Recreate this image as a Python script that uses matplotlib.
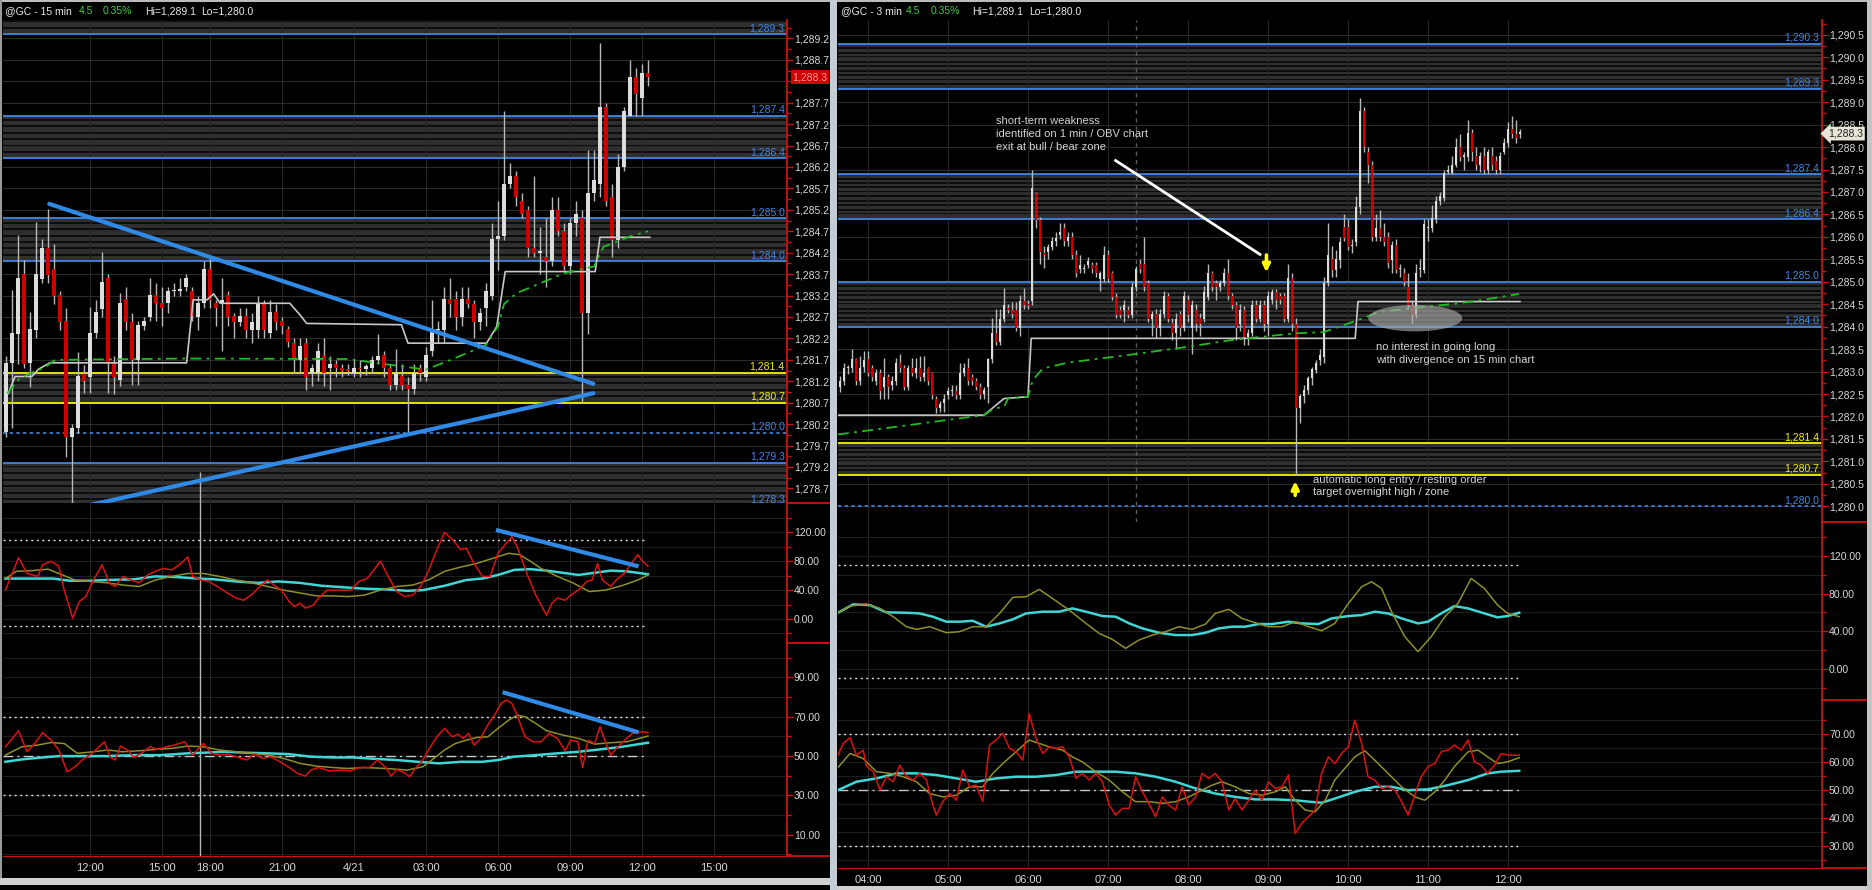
import numpy as np
import matplotlib
matplotlib.use("Agg")
import matplotlib.pyplot as plt
from matplotlib.patches import Ellipse, Rectangle
from matplotlib.lines import Line2D
from matplotlib.ticker import FixedLocator, FuncFormatter

plt.rcParams['font.family'] = ['Liberation Sans', 'DejaVu Sans']

W, H = 1872, 890
TXT = '#d8d8d8'
UP, DN, WICK = '#dcdcdc', '#d00000', '#b8b8b8'
BLUE, YELLOW = '#3f86e6', '#f2f200'
RED_AX = '#d01010'

# ---------------- 15 min chart (left) ----------------
L_OPEN = [1280.02, 1281.62, 1282.30, 1283.70, 1281.62, 1282.40, 1283.59, 1284.32, 1283.81, 1283.21,
          1282.61, 1279.91, 1280.12, 1281.37, 1281.31, 1282.32, 1282.88, 1283.62, 1281.63, 1281.23,
          1283.12, 1282.59, 1281.70, 1282.50, 1282.71, 1283.21, 1283.02, 1283.02, 1283.30, 1283.30,
          1283.40, 1283.30, 1282.71, 1283.02, 1283.82, 1283.02, 1283.00, 1283.21, 1282.72, 1282.59,
          1282.72, 1282.40, 1282.40, 1283.02, 1282.32, 1282.82, 1282.60, 1282.42, 1282.10, 1281.70,
          1282.10, 1281.40, 1281.40, 1281.80, 1281.50, 1281.60, 1281.50, 1281.47, 1281.39, 1281.50,
          1281.48, 1281.50, 1281.70, 1281.81, 1281.50, 1281.12, 1281.33, 1281.12, 1281.02, 1281.50,
          1281.30, 1281.90, 1282.40, 1282.40, 1283.11, 1283.11, 1282.71, 1283.11, 1283.00, 1282.59,
          1282.90, 1283.20, 1284.52, 1284.60, 1285.80, 1286.00, 1285.40, 1285.20, 1284.30, 1284.20,
          1284.10, 1284.00, 1285.20, 1284.70, 1283.90, 1284.90, 1285.00, 1282.80, 1285.60, 1285.80,
          1287.60, 1285.50, 1284.50, 1286.20, 1287.40, 1288.30, 1287.80, 1288.40]
L_HIGH = [1281.80, 1283.33, 1284.61, 1284.03, 1282.82, 1284.91, 1284.51, 1285.22, 1284.40, 1283.30,
          1282.90, 1280.20, 1281.89, 1281.58, 1282.94, 1283.10, 1284.22, 1283.70, 1281.80, 1283.25,
          1283.40, 1282.80, 1282.60, 1282.70, 1283.60, 1283.50, 1283.40, 1283.40, 1283.50, 1283.60,
          1283.70, 1283.40, 1283.20, 1284.00, 1284.10, 1283.10, 1283.60, 1283.30, 1282.80, 1282.90,
          1282.90, 1282.80, 1283.20, 1283.10, 1283.10, 1283.00, 1282.70, 1282.50, 1282.20, 1282.20,
          1282.20, 1281.60, 1282.10, 1282.20, 1281.80, 1281.70, 1281.60, 1281.60, 1281.70, 1281.70,
          1281.60, 1281.80, 1282.30, 1281.90, 1281.60, 1281.95, 1281.60, 1281.30, 1281.60, 1281.60,
          1282.00, 1283.10, 1282.60, 1283.40, 1283.60, 1283.30, 1283.40, 1283.40, 1283.10, 1282.90,
          1283.50, 1284.90, 1285.40, 1287.50, 1286.30, 1286.10, 1285.60, 1285.30, 1286.00, 1284.80,
          1285.00, 1285.50, 1285.50, 1284.90, 1285.00, 1285.40, 1285.20, 1286.60, 1286.60, 1289.10,
          1287.70, 1285.80, 1286.50, 1287.60, 1288.70, 1288.50, 1288.60, 1288.70]
L_LOW = [1279.90, 1280.10, 1281.60, 1281.50, 1281.07, 1282.20, 1283.50, 1283.50, 1283.00, 1282.40,
         1279.44, 1278.20, 1280.00, 1280.92, 1280.92, 1282.20, 1282.70, 1280.92, 1280.90, 1281.10,
         1282.40, 1281.11, 1281.11, 1282.40, 1282.60, 1282.60, 1282.50, 1282.80, 1283.20, 1283.20,
         1283.30, 1282.60, 1282.40, 1282.90, 1282.90, 1282.50, 1281.90, 1282.50, 1282.20, 1282.50,
         1282.20, 1282.10, 1282.20, 1282.20, 1282.20, 1282.40, 1282.30, 1282.00, 1281.40, 1281.40,
         1281.00, 1281.10, 1281.20, 1281.10, 1281.00, 1281.30, 1281.30, 1281.35, 1281.30, 1281.30,
         1281.35, 1281.40, 1281.60, 1281.30, 1281.00, 1281.00, 1281.00, 1279.95, 1280.90, 1281.20,
         1281.20, 1281.80, 1282.10, 1282.10, 1282.70, 1282.40, 1282.50, 1282.90, 1282.20, 1282.40,
         1282.50, 1283.10, 1283.80, 1284.50, 1285.70, 1285.30, 1285.00, 1284.10, 1284.10, 1283.70,
         1283.40, 1283.90, 1284.60, 1283.80, 1283.70, 1284.60, 1280.70, 1282.30, 1285.40, 1285.50,
         1285.30, 1284.10, 1284.30, 1286.10, 1287.40, 1287.40, 1287.40, 1288.10]
L_CLOSE = [1281.62, 1282.32, 1283.60, 1281.60, 1282.42, 1283.70, 1284.30, 1283.68, 1283.19, 1282.59,
           1279.91, 1280.12, 1281.32, 1281.21, 1282.32, 1282.82, 1283.51, 1281.63, 1281.31, 1283.02,
           1282.59, 1281.70, 1282.51, 1282.60, 1283.21, 1283.02, 1282.90, 1283.30, 1283.30, 1283.35,
           1283.60, 1282.72, 1283.02, 1283.81, 1283.10, 1282.90, 1283.10, 1282.71, 1282.59, 1282.72,
           1282.40, 1282.59, 1283.02, 1282.40, 1282.82, 1282.59, 1282.50, 1282.11, 1281.74, 1282.03,
           1281.30, 1281.50, 1281.90, 1281.40, 1281.60, 1281.50, 1281.43, 1281.45, 1281.50, 1281.48,
           1281.55, 1281.70, 1281.80, 1281.50, 1281.12, 1281.39, 1281.12, 1281.02, 1281.39, 1281.39,
           1281.81, 1282.40, 1282.42, 1283.11, 1283.00, 1282.71, 1283.11, 1283.00, 1282.59, 1282.80,
           1283.30, 1284.52, 1284.60, 1285.80, 1286.00, 1285.50, 1285.10, 1284.30, 1284.20, 1284.22,
           1284.00, 1285.20, 1284.70, 1283.90, 1284.90, 1285.10, 1282.80, 1285.60, 1285.90, 1287.60,
           1285.40, 1284.50, 1286.20, 1287.50, 1288.30, 1287.90, 1288.40, 1288.30]

L_TIME_TICKS = [14, 26, 34, 46, 58, 70, 82, 94, 106, 118]
L_TIME_LABELS = ['12:00', '15:00', '18:00', '21:00', '4/21', '03:00', '06:00', '09:00', '12:00', '15:00']

L_VWAP_X = [0.2, 2.3, 4.6, 6.2, 8.2, 30, 57, 62, 66, 70, 75, 80, 82, 83, 85, 93, 98, 99.6, 104, 107]
L_VWAP_Y = [1280.92, 1281.27, 1281.42, 1281.50, 1281.70, 1281.73, 1281.72, 1281.62, 1281.55, 1281.47,
            1281.75, 1282.05, 1282.48, 1283.00, 1283.25, 1283.72, 1283.88, 1284.34, 1284.58, 1284.70]
L_STEP_X = [0.4, 1.5, 4.3, 5.4, 7.3, 30.1, 31.2, 33.5, 34.6, 35.7, 47.3, 49.0, 50.1, 65.9, 67.0,
            80.1, 81.8, 83.2, 98.2, 99.0, 107.3]
L_STEP_Y = [1280.92, 1281.31, 1281.31, 1281.48, 1281.63, 1281.63, 1283.10, 1283.10, 1283.24, 1283.02,
            1283.02, 1282.75, 1282.55, 1282.52, 1282.09, 1282.09, 1282.48, 1283.76, 1283.76, 1284.56,
            1284.56]
L_TREND_UPPER_X, L_TREND_UPPER_Y = [7.2, 97.9], [1285.34, 1281.14]
L_TREND_LOWER_X, L_TREND_LOWER_Y = [12.0, 97.9], [1278.25, 1280.92]
L_CURSOR = 32.3

L_CCI_X = [-0.1, 2.1, 3.5, 4.4, 5.3, 6.1, 7.5, 8.8, 9.7, 11.1, 12.2, 13.3, 14.6, 16.0, 17.3, 18.2,
           19.5, 20.9, 22.2, 23.6, 24.9, 26.2, 27.6, 28.9, 30.3, 31.1, 32.5, 33.8, 35.2, 36.5, 38.3,
           39.6, 41.0, 42.3, 43.6, 45.0, 45.9, 47.2, 48.1, 49.0, 49.9, 51.2, 52.1, 53.5, 54.8, 56.1,
           57.5, 58.8, 60.2, 61.5, 62.4, 63.7, 65.1, 66.4, 67.8, 69.1, 70.4, 71.8, 73.1, 74.4, 75.8,
           76.7, 78.0, 79.4, 80.7, 82.0, 82.9, 84.3, 85.2, 86.9, 88.3, 90.1, 91.0, 91.9, 93.2, 94.1,
           95.4, 96.8, 97.7, 98.6, 99.4, 100.8, 101.7, 103.0, 103.9, 105.3, 106.1, 107.0]
L_CCI_RED = [40, 85, 63, 61, 59, 75, 80, 73, 40, 1, 24, 31, 54, 75, 49, 45, 59, 54, 50, 61,
             66, 70, 68, 75, 86, 59, 54, 52, 45, 38, 29, 26, 34, 45, 54, 45, 40, 24, 17, 22,
             15, 19, 29, 40, 40, 40, 40, 52, 56, 70, 80, 59, 38, 31, 33, 45, 66, 96, 120, 110,
             96, 98, 77, 59, 59, 91, 100, 114, 100, 61, 33, 5, 22, 29, 26, 33, 40, 52, 54, 77,
             54, 45, 54, 63, 73, 89, 80, 73]
L_CCI_OLIVE_X = [-0.1, 1.7, 4.4, 7.0, 8.8, 11.5, 14.2, 16.9, 19.5, 22.2, 24.9, 27.6, 30.3, 32.9,
                 35.6, 38.3, 41.0, 43.6, 46.3, 49.0, 51.7, 54.4, 57.0, 59.7, 62.4, 65.1, 67.8, 70.4,
                 73.1, 75.8, 78.5, 81.1, 83.8, 85.6, 87.4, 89.2, 91.9, 94.5, 97.2, 99.9, 102.6,
                 105.3, 107.0]
L_CCI_OLIVE = [56, 66, 67, 69, 63, 54, 52, 50, 47, 45, 54, 59, 63, 63, 59, 54, 50, 45, 40, 36,
               32, 32, 31, 33, 40, 45, 47, 54, 66, 72, 77, 84, 91, 89, 80, 70, 59, 50, 38, 40,
               46, 54, 61]
L_CCI_CYAN_X = [-0.1, 3.5, 7.9, 10.6, 14.2, 16.9, 21.3, 24.9, 28.5, 32.0, 34.7, 38.3, 41.9, 45.4,
                49.0, 52.6, 56.1, 59.7, 63.3, 66.9, 69.5, 73.1, 76.7, 79.4, 82.0, 84.7, 87.4, 90.1,
                92.8, 95.4, 98.1, 100.8, 103.5, 106.1, 107.0]
L_CCI_CYAN = [56, 56, 56, 53, 53, 54, 55, 59, 58, 56, 55, 52, 50, 52, 50, 46, 44, 42, 41, 39,
              40, 46, 54, 56, 61, 68, 69, 67, 64, 61, 64, 67, 66, 63, 62]
L_CCI_TREND_X, L_CCI_TREND_Y = [82.0, 105.1], [122.7, 73.6]

L_RSI_X = [-0.1, 2.1, 3.5, 4.8, 6.1, 7.5, 8.8, 10.2, 11.5, 12.8, 14.2, 15.5, 16.4, 17.3, 18.2, 19.1,
           20.4, 21.3, 22.7, 24.0, 25.3, 26.7, 28.0, 29.8, 31.1, 32.9, 34.3, 35.6, 36.9, 38.3, 40.1,
           41.4, 42.8, 44.1, 45.4, 47.2, 48.6, 49.9, 50.8, 52.1, 53.9, 55.7, 57.5, 58.8, 60.6, 61.9,
           63.3, 64.2, 65.1, 66.4, 67.3, 68.2, 69.5, 70.4, 71.8, 73.1, 74.4, 75.3, 76.2, 77.1, 78.0,
           78.9, 80.3, 81.6, 82.5, 83.4, 84.3, 85.2, 86.5, 87.8, 89.2, 90.5, 91.9, 93.2, 94.1, 95.3,
           96.1, 97.0, 98.1, 99.0, 99.9, 100.8, 101.7, 103.0, 104.4, 105.3, 106.1, 107.0]
L_RSI_RED = [54.7, 62.9, 52.2, 56.4, 61.9, 58.1, 53.1, 42.0, 44.6, 48.3,
             51.0, 54.7, 57.3, 49.7, 48.0, 55.1, 52.7, 49.3, 51.7, 54.7,
             53.4, 54.7, 55.6, 57.3, 50.5, 56.4, 51.4, 50.5, 51.0, 49.7,
             48.0, 51.0, 48.8, 49.7, 47.6, 44.2, 41.2, 39.8, 42.9, 44.2,
             42.4, 42.9, 42.5, 44.2, 44.2, 48.0, 44.2, 39.8, 43.2, 41.5,
             39.5, 43.7, 48.0, 53.1, 59.8, 64.1, 59.8, 61.2, 59.0, 61.5,
             55.6, 58.1, 65.8, 71.7, 76.8, 78.5, 76.8, 70.8, 59.8, 57.3,
             57.3, 61.5, 59.0, 52.7, 58.1, 57.3, 44.2, 58.1, 56.4, 64.9,
             57.3, 50.5, 53.9, 57.8, 61.5, 61.9, 62.4, 61.9]
L_RSI_OLIVE_X = [-0.1, 2.6, 5.3, 7.5, 9.7, 11.9, 14.6, 16.9, 19.5, 22.2, 24.9, 27.6, 30.3, 32.9,
                 35.6, 38.3, 41.0, 43.6, 46.3, 49.0, 51.7, 54.4, 57.0, 59.7, 63.3, 66.9, 69.5, 71.3,
                 73.1, 74.9, 76.7, 78.5, 80.3, 82.0, 83.8, 85.2, 86.5, 88.3, 90.1, 92.8, 95.4, 98.1,
                 100.8, 103.5, 107.0]
L_RSI_OLIVE = [50.5, 54.7, 55.6, 56.9, 56.4, 51.4, 52.2, 53.1, 52.2, 52.7,
               53.4, 53.9, 55.1, 54.7, 53.1, 52.2, 51.4, 50.5, 48.8, 46.3,
               44.9, 44.2, 43.7, 44.2, 43.7, 42.9, 44.6, 48.8, 53.1, 56.4,
               58.1, 59.5, 59.8, 64.1, 68.3, 70.8, 70.0, 66.6, 62.9, 60.7,
               59.0, 56.1, 56.8, 57.3, 60.2]
L_RSI_CYAN_X = [-0.1, 2.6, 6.1, 8.8, 12.4, 16.9, 21.3, 25.8, 30.3, 32.9, 36.5, 40.1, 43.6, 47.2,
                50.8, 54.4, 57.9, 61.5, 65.1, 68.6, 72.2, 75.8, 79.4, 82.0, 84.7, 88.3, 91.9, 95.4,
                99.0, 102.6, 107.0]
L_RSI_CYAN = [47.1, 48.3, 49.3, 50.0, 50.0, 50.0, 50.5, 50.5, 51.4, 51.7, 52.2, 51.7, 51.4, 51.0,
              49.7, 49.3, 49.3, 48.6, 48.0, 47.1, 46.3, 47.1, 47.1, 48.0, 49.7, 50.5, 51.4, 52.2,
              53.4, 54.7, 56.8]
L_RSI_TREND_X, L_RSI_TREND_Y = [83.1, 105.1], [82.2, 62.4]

# ---------------- 3 min chart (right) ----------------
R_OPEN = [1282.65, 1282.80, 1283.07, 1283.07, 1283.27, 1282.78, 1283.10, 1283.27, 1283.07, 1282.78,
          1282.97, 1282.66, 1282.87, 1282.70, 1282.80, 1283.18, 1283.07, 1282.66, 1283.07, 1282.97,
          1283.07, 1282.87, 1283.07, 1282.97, 1282.38, 1282.18, 1282.30, 1282.48, 1282.57, 1282.57,
          1282.48, 1282.97, 1283.07, 1282.87, 1282.78, 1282.66, 1282.50, 1282.66, 1283.27, 1283.87,
          1283.66, 1284.18, 1284.40, 1284.38, 1284.38, 1283.98, 1284.58, 1284.50, 1284.58, 1286.98,
          1286.38, 1285.62, 1285.67, 1285.78, 1285.90, 1286.05, 1286.20, 1285.90, 1286.00, 1285.60,
          1285.28, 1285.28, 1285.37, 1285.37, 1285.37, 1285.06, 1285.06, 1285.60, 1285.19, 1284.67,
          1284.37, 1284.37, 1284.37, 1284.26, 1284.88, 1285.39, 1285.39, 1284.98, 1284.18, 1284.28,
          1283.96, 1284.28, 1284.68, 1284.08, 1283.86, 1284.28, 1283.96, 1284.59, 1283.96, 1284.38,
          1284.20, 1284.18, 1284.67, 1285.19, 1284.98, 1284.88, 1284.98, 1285.19, 1284.68, 1284.48,
          1284.07, 1284.38, 1283.78, 1283.87, 1284.48, 1284.18, 1284.48, 1284.07, 1284.60, 1284.78,
          1284.68, 1284.68, 1284.18, 1285.08, 1284.07, 1282.18, 1282.45, 1282.60, 1282.85, 1283.03,
          1283.25, 1283.33, 1284.98, 1285.50, 1285.26, 1285.48, 1286.23, 1286.23, 1285.80, 1285.89,
          1286.67, 1288.81, 1287.90, 1287.60, 1286.00, 1286.19, 1286.00, 1286.00, 1285.48, 1285.82,
          1285.28, 1285.19, 1284.89, 1284.48, 1284.26, 1285.28, 1285.26, 1286.19, 1286.19, 1286.39,
          1286.80, 1286.86, 1287.45, 1287.42, 1287.60, 1288.00, 1287.79, 1287.79, 1288.31, 1287.80,
          1287.60, 1287.80, 1287.49, 1287.80, 1287.70, 1287.49, 1287.90, 1288.10, 1288.40, 1288.30,
          1288.30]
R_HIGH = [1282.90, 1283.20, 1283.15, 1283.50, 1283.30, 1283.35, 1283.45, 1283.45, 1283.15, 1283.05,
          1283.05, 1283.30, 1282.95, 1282.90, 1283.30, 1283.40, 1283.15, 1283.15, 1283.30, 1283.30,
          1283.35, 1283.35, 1283.10, 1283.00, 1282.45, 1282.35, 1282.50, 1282.65, 1282.70, 1282.70,
          1283.20, 1283.20, 1283.30, 1282.95, 1282.85, 1282.75, 1282.65, 1283.30, 1284.20, 1284.40,
          1284.40, 1284.87, 1284.50, 1284.55, 1284.55, 1284.70, 1284.87, 1284.60, 1287.49, 1287.00,
          1286.45, 1285.80, 1285.85, 1286.00, 1286.10, 1286.30, 1286.30, 1286.10, 1286.10, 1285.70,
          1285.60, 1285.40, 1285.55, 1285.45, 1285.45, 1285.25, 1285.80, 1285.70, 1285.25, 1284.75,
          1284.45, 1284.60, 1284.45, 1285.00, 1285.35, 1285.50, 1286.00, 1285.05, 1284.35, 1284.40,
          1284.40, 1284.80, 1284.75, 1284.20, 1284.30, 1284.35, 1284.80, 1284.70, 1284.60, 1284.50,
          1284.30, 1284.90, 1285.40, 1285.25, 1285.05, 1285.05, 1285.30, 1285.50, 1284.75, 1284.55,
          1284.50, 1284.45, 1283.95, 1284.60, 1284.60, 1284.60, 1284.60, 1284.80, 1284.85, 1284.85,
          1284.75, 1284.75, 1285.40, 1285.20, 1284.20, 1282.50, 1282.70, 1282.90, 1283.10, 1283.25,
          1283.50, 1285.10, 1286.30, 1285.80, 1285.70, 1286.00, 1286.50, 1286.40, 1285.95, 1286.90,
          1289.09, 1288.90, 1288.00, 1287.70, 1286.50, 1286.60, 1286.30, 1286.10, 1285.90, 1285.95,
          1285.40, 1285.30, 1285.20, 1284.60, 1285.40, 1285.50, 1286.40, 1286.40, 1286.70, 1286.90,
          1287.00, 1287.50, 1287.60, 1287.80, 1288.20, 1288.30, 1287.90, 1288.60, 1288.40, 1288.00,
          1287.90, 1288.00, 1287.95, 1288.00, 1287.80, 1287.90, 1288.20, 1288.55, 1288.70, 1288.60,
          1288.40]
R_LOW = [1282.55, 1282.70, 1282.95, 1283.00, 1282.70, 1282.70, 1283.00, 1282.90, 1282.80, 1282.70,
         1282.40, 1282.40, 1282.40, 1282.60, 1282.70, 1283.00, 1282.60, 1282.60, 1282.90, 1282.85,
         1282.80, 1282.80, 1282.70, 1282.40, 1282.08, 1282.10, 1282.10, 1282.40, 1282.45, 1282.40,
         1282.40, 1282.90, 1282.70, 1282.70, 1282.60, 1282.40, 1282.40, 1282.30, 1283.20, 1283.60,
         1283.60, 1284.10, 1284.30, 1284.20, 1283.90, 1283.80, 1284.40, 1284.40, 1284.48, 1286.20,
         1285.40, 1285.30, 1285.50, 1285.70, 1285.80, 1285.95, 1285.80, 1285.80, 1285.50, 1285.10,
         1285.20, 1285.20, 1285.30, 1285.20, 1285.10, 1284.80, 1285.00, 1285.00, 1284.60, 1284.20,
         1284.20, 1284.10, 1284.20, 1284.20, 1284.80, 1285.20, 1284.80, 1284.10, 1283.80, 1283.75,
         1283.80, 1284.20, 1284.10, 1283.70, 1283.50, 1283.80, 1283.90, 1284.10, 1283.40, 1283.90,
         1283.80, 1284.10, 1284.60, 1284.80, 1284.60, 1284.80, 1284.90, 1284.60, 1284.40, 1283.70,
         1283.90, 1283.60, 1283.60, 1283.80, 1284.10, 1284.10, 1283.90, 1283.80, 1284.50, 1284.40,
         1284.50, 1284.10, 1284.10, 1283.90, 1280.70, 1281.85, 1282.30, 1282.50, 1282.70, 1282.96,
         1283.15, 1283.20, 1284.90, 1285.10, 1285.10, 1285.30, 1285.90, 1285.70, 1285.65, 1285.80,
         1286.50, 1287.90, 1287.20, 1285.90, 1285.90, 1285.90, 1285.80, 1285.30, 1285.20, 1285.20,
         1285.10, 1284.90, 1284.40, 1284.07, 1284.20, 1285.10, 1285.20, 1285.90, 1286.10, 1286.30,
         1286.70, 1286.80, 1287.40, 1287.40, 1287.55, 1287.70, 1287.50, 1287.70, 1287.70, 1287.50,
         1287.45, 1287.40, 1287.40, 1287.50, 1287.40, 1287.40, 1287.85, 1288.00, 1288.20, 1288.10,
         1288.20]
R_CLOSE = [1282.80, 1283.07, 1283.07, 1283.27, 1282.78, 1283.07, 1283.25, 1282.97, 1282.87, 1282.97,
           1282.57, 1282.87, 1282.66, 1282.80, 1283.18, 1283.07, 1282.66, 1283.07, 1282.97, 1283.07,
           1282.87, 1282.97, 1282.78, 1282.48, 1282.18, 1282.28, 1282.40, 1282.57, 1282.57, 1282.48,
           1282.97, 1283.07, 1282.78, 1282.78, 1282.66, 1282.48, 1282.60, 1283.27, 1283.87, 1283.66,
           1284.18, 1284.48, 1284.38, 1284.28, 1283.98, 1284.58, 1284.48, 1284.45, 1287.08, 1286.38,
           1285.67, 1285.60, 1285.78, 1285.90, 1285.98, 1286.10, 1285.90, 1286.00, 1285.60, 1285.19,
           1285.38, 1285.30, 1285.47, 1285.28, 1285.19, 1285.19, 1285.60, 1285.06, 1284.67, 1284.26,
           1284.26, 1284.48, 1284.26, 1284.88, 1285.28, 1285.28, 1284.88, 1284.18, 1284.28, 1283.96,
           1284.28, 1284.68, 1284.18, 1283.86, 1284.18, 1283.96, 1284.68, 1284.26, 1284.48, 1284.07,
           1284.07, 1284.78, 1285.19, 1284.88, 1284.88, 1284.98, 1285.19, 1284.68, 1284.48, 1283.96,
           1284.38, 1283.78, 1283.87, 1284.48, 1284.18, 1284.48, 1284.07, 1284.68, 1284.78, 1284.59,
           1284.59, 1284.18, 1285.08, 1284.07, 1282.18, 1282.45, 1282.60, 1282.85, 1283.05, 1283.18,
           1283.37, 1284.98, 1285.60, 1285.26, 1285.50, 1285.89, 1285.97, 1285.78, 1285.80, 1286.67,
           1288.81, 1288.00, 1287.60, 1286.00, 1286.19, 1286.00, 1285.89, 1285.41, 1285.82, 1285.26,
           1285.28, 1285.00, 1284.48, 1284.26, 1285.19, 1285.28, 1286.28, 1286.19, 1286.41, 1286.80,
           1286.90, 1287.42, 1287.50, 1287.60, 1288.00, 1287.79, 1287.80, 1288.31, 1287.90, 1287.60,
           1287.80, 1287.49, 1287.90, 1287.60, 1287.49, 1287.80, 1288.10, 1288.40, 1288.30, 1288.20,
           1288.30]

R_TIME_TICKS = [7, 27, 47, 67, 87, 107, 127, 147, 167]
R_TIME_LABELS = ['04:00', '05:00', '06:00', '07:00', '08:00', '09:00', '10:00', '11:00', '12:00']

R_VWAP_X = [-0.5, 36, 38.5, 41, 42, 47, 48.2, 50.7, 57, 73.8, 86.8, 97.7, 106, 113.5, 121, 129.6,
            134.7, 143, 154.7, 163, 169.7]
R_VWAP_Y = [1281.60, 1282.03, 1282.18, 1282.21, 1282.40, 1282.44, 1282.81, 1283.07, 1283.20, 1283.39,
            1283.55, 1283.70, 1283.78, 1283.85, 1283.88, 1284.15, 1284.33, 1284.41, 1284.52, 1284.63,
            1284.73]
R_STEP_X = [-0.5, 36, 41, 47, 47.8, 128.8, 129.5, 170]
R_STEP_Y = [1282.03, 1282.03, 1282.40, 1282.44, 1283.74, 1283.74, 1284.56, 1284.56]
R_SESSION_LINE = 73.9
R_POINTER_X, R_POINTER_Y = [68.9, 105.0], [1287.70, 1285.61]

R_CCI_OLIVE_X = [-0.5, 2.5, 6.6, 10.0, 13.3, 16.6, 19.1, 22.4, 26.6, 29.9, 33.2, 36.5, 39.9, 43.2,
                 46.5, 49.8, 53.1, 57.3, 61.5, 64.8, 68.1, 71.4, 74.7, 78.1, 81.4, 84.7, 88.0, 91.4,
                 93.8, 97.2, 100.5, 103.8, 107.1, 110.5, 113.8, 117.1, 120.4, 123.7, 127.1, 130.4,
                 132.9, 135.4, 137.9, 141.2, 144.5, 147.8, 151.2, 154.5, 157.8, 161.1, 164.4, 166.9,
                 169.8]
R_CCI_OLIVE = [59.7, 66.8, 68.9, 64.3, 55.5, 44.9, 42.0, 44.9, 38.5, 39.6,
               44.9, 44.9, 59.0, 76.0, 76.7, 84.5, 74.9, 62.5, 48.4, 37.8,
               31.4, 21.9, 30.7, 36.0, 39.6, 44.9, 42.0, 47.7, 59.0, 63.3,
               53.7, 49.1, 44.9, 44.9, 50.2, 44.9, 40.6, 48.4, 69.6, 87.3,
               92.6, 85.5, 60.8, 34.3, 18.4, 34.3, 55.5, 69.6, 96.1, 85.5,
               67.8, 59.0, 55.5]
R_CCI_CYAN_X = [-0.5, 3.3, 7.5, 11.6, 16.6, 19.9, 23.2, 26.6, 29.9, 33.2, 36.5, 39.9, 43.2, 46.5,
                50.7, 54.8, 58.1, 61.5, 65.6, 68.9, 72.3, 75.6, 79.7, 83.9, 88.0, 91.4, 94.7, 98.0,
                101.3, 104.6, 108.0, 112.1, 115.4, 119.6, 122.9, 127.1, 130.4, 133.7, 137.0, 140.4,
                144.5, 147.0, 150.3, 153.6, 157.0, 161.1, 164.4, 166.9, 169.8]
R_CCI_CYAN = [59.7, 68.6, 67.8, 60.1, 59.7, 59.0, 55.5, 50.2, 50.2, 51.2,
              44.9, 48.4, 52.7, 59.0, 60.8, 60.8, 64.3, 60.8, 56.2, 55.5,
              48.4, 43.1, 38.5, 36.0, 36.0, 38.5, 43.1, 44.9, 44.9, 47.7,
              47.7, 50.2, 48.4, 47.7, 53.7, 56.2, 57.2, 60.8, 59.0, 53.7,
              48.4, 50.2, 59.0, 66.8, 64.3, 59.0, 54.8, 56.2, 59.7]

R_RSI_X = [-0.5, 0.8, 2.5, 4.1, 5.8, 6.6, 8.3, 10.0, 11.6, 13.3, 14.9, 16.6, 18.3, 19.9, 21.6, 23.2,
           24.1, 25.7, 27.4, 29.1, 30.7, 32.4, 34.0, 35.7, 37.4, 39.0, 40.7, 42.4, 44.0, 45.7, 47.3,
           49.0, 50.7, 52.3, 54.0, 55.6, 57.3, 59.0, 60.6, 62.3, 63.9, 65.6, 67.3, 68.9, 70.6, 72.3,
           73.9, 75.6, 77.2, 78.9, 80.6, 82.2, 83.9, 85.5, 87.2, 88.9, 90.5, 92.2, 93.8, 95.5, 97.2,
           98.8, 100.5, 102.2, 103.8, 105.5, 107.1, 108.8, 110.5, 112.1, 113.8, 115.4, 117.1, 118.8,
           120.4, 122.1, 123.7, 125.4, 127.1, 128.7, 130.4, 132.0, 133.7, 135.4, 137.0, 138.7, 140.4,
           142.0, 143.7, 145.3, 147.0, 148.7, 150.3, 152.0, 153.6, 155.3, 157.0, 158.6, 160.3, 161.9,
           163.6, 165.3, 166.9, 169.8]
R_RSI_RED = [62.6, 66.8, 68.9, 62.6, 64.4, 58.7, 56.7, 50.1, 54.9, 53.1,
             59.0, 55.1, 53.7, 56.1, 53.7, 44.8, 41.2, 46.0, 48.9, 46.5,
             57.3, 51.3, 51.9, 46.0, 66.2, 68.0, 70.4, 65.0, 63.8, 60.8,
             77.5, 68.6, 63.2, 65.6, 65.0, 65.6, 62.0, 54.3, 56.1, 53.7,
             56.1, 53.1, 44.8, 41.2, 43.6, 43.6, 54.9, 49.5, 45.4, 40.6,
             47.7, 44.8, 43.0, 51.3, 44.8, 47.7, 56.1, 54.3, 56.1, 53.1,
             43.0, 47.1, 43.0, 46.5, 50.1, 46.5, 53.1, 50.7, 51.3, 55.5,
             34.6, 38.2, 40.6, 43.0, 56.1, 62.0, 59.6, 63.2, 65.6, 75.1,
             66.8, 54.9, 53.7, 50.7, 51.3, 50.1, 46.0, 41.2, 48.3, 54.9,
             58.5, 59.6, 63.8, 64.4, 66.2, 64.4, 68.0, 60.2, 59.0, 56.1,
             59.0, 63.2, 62.6, 62.6]
R_RSI_OLIVE_X = [-0.5, 2.5, 5.8, 9.1, 12.5, 15.8, 19.1, 22.4, 25.7, 29.1, 32.4, 35.7, 38.2, 40.7,
                 44.0, 47.3, 49.8, 52.3, 55.6, 58.1, 60.6, 63.9, 67.3, 70.6, 73.9, 77.2, 80.6, 83.9,
                 87.2, 90.5, 93.0, 95.5, 98.8, 102.2, 105.5, 108.8, 111.3, 113.8, 116.3, 118.8, 121.3,
                 123.7, 126.2, 128.7, 131.2, 133.7, 137.0, 140.4, 143.7, 146.2, 148.7, 151.2, 153.6,
                 157.0, 159.5, 161.9, 164.4, 166.9, 169.8]
R_RSI_OLIVE = [58.2, 63.2, 61.4, 56.7, 56.1, 54.9, 53.1, 48.9, 47.7, 48.3,
               51.3, 51.3, 56.1, 59.6, 63.8, 68.0, 66.8, 65.6, 64.4, 62.0,
               60.2, 56.7, 53.7, 49.5, 46.0, 46.0, 45.4, 46.0, 47.7, 50.1,
               51.9, 53.1, 51.3, 48.9, 48.3, 49.5, 51.3, 46.5, 43.0, 42.4,
               46.5, 53.7, 57.9, 62.0, 64.2, 60.8, 56.1, 51.3, 47.7, 46.5,
               49.5, 53.7, 58.5, 63.8, 64.4, 62.0, 59.6, 60.2, 61.7]
R_RSI_CYAN_X = [-0.5, 4.1, 9.1, 14.1, 19.1, 24.1, 29.1, 34.0, 39.0, 44.0, 49.0, 54.0, 59.0, 63.9,
                68.9, 73.9, 78.9, 83.9, 88.9, 93.8, 98.8, 103.8, 108.8, 113.8, 117.1, 120.4, 123.7,
                128.7, 133.7, 137.9, 142.0, 147.0, 152.0, 157.0, 161.9, 165.3, 169.8]
R_RSI_CYAN = [50.1, 53.1, 54.3, 56.1, 56.1, 55.5, 54.3, 53.1, 54.3, 54.9,
              54.9, 55.5, 56.7, 56.7, 56.7, 56.1, 54.9, 53.1, 50.7, 48.9,
              47.7, 46.8, 46.8, 46.5, 46.0, 45.6, 47.1, 49.5, 51.3, 51.3,
              50.1, 50.4, 51.9, 53.7, 56.1, 56.7, 57.0]

# shared price zones
ZONE_BANDS = [(1289.3, 1290.3), (1286.4, 1287.4), (1284.0, 1285.0), (1280.7, 1281.4), (1278.3, 1279.3)]
BLUE_LEVELS = [1290.3, 1289.3, 1287.4, 1286.4, 1285.0, 1284.0, 1279.3, 1278.3]
YELLOW_LEVELS = [1281.4, 1280.7]
DOTTED_LEVEL = 1280.0
LAST_PRICE = 1288.3

ANN_WEAK = "short-term weakness\nidentified on 1 min / OBV chart\nexit at bull / bear zone"
ANN_DIV = "no interest in going long\nwith divergence on 15 min chart"
ANN_ENTRY = "automatic long entry / resting order\ntarget overnight high / zone"

fig = plt.figure(figsize=(W / 100, H / 100), dpi=100, facecolor='black')


def px_axes(x0, y0, x1, y1):
    ax = fig.add_axes([x0 / W, 1 - y1 / H, (x1 - x0) / W, (y1 - y0) / H])
    ax.set_facecolor('black')
    for s in ('top', 'left', 'bottom'):
        ax.spines[s].set_visible(False)
    ax.spines['right'].set_color(RED_AX)
    ax.spines['right'].set_linewidth(1.3)
    ax.yaxis.tick_right()
    ax.tick_params(axis='y', which='both', colors=RED_AX, labelcolor=TXT, labelsize=7.5,
                   length=4, width=1, pad=1)
    ax.tick_params(axis='y', which='minor', length=3)
    ax.tick_params(axis='x', length=0, labelbottom=False)
    return ax


def fig_line(x0, x1, y0, y1, color, lw):
    fig.add_artist(Line2D([x0 / W, x1 / W], [1 - y0 / H, 1 - y1 / H], color=color, lw=lw))


def fig_rect(x0, y0, x1, y1, color):
    fig.add_artist(Rectangle((x0 / W, 1 - y1 / H), (x1 - x0) / W, (y1 - y0) / H,
                             color=color, lw=0, transform=fig.transFigure))


def candles(ax, o, h, l, c, width):
    o, h, l, c = map(np.asarray, (o, h, l, c))
    x = np.arange(len(o))
    up = c >= o
    ax.vlines(x, l, h, color=WICK, lw=1, zorder=4)
    lo = np.minimum(o, c)
    ht = np.maximum(np.abs(c - o), 0.03)
    ax.bar(x[up], ht[up], width, bottom=lo[up], color=UP, lw=0, zorder=5)
    ax.bar(x[~up], ht[~up], width, bottom=lo[~up], color=DN, lw=0, zorder=5)


def price_panel(ax, xlim, ylim, ticks, step, label_levels, hide_tick=None):
    ax.set_xlim(*xlim)
    ax.set_ylim(*ylim)
    ax.yaxis.set_major_locator(FixedLocator(ticks))
    ax.yaxis.set_minor_locator(FixedLocator(np.asarray(ticks) + 0.25))
    ax.yaxis.set_major_formatter(FuncFormatter(
        lambda v, _: '' if hide_tick is not None and abs(v - hide_tick) < 0.01 else f"{v:,.1f}"))
    ax.grid(True, axis='y', color='#2a2a2a', lw=0.8)
    ax.grid(True, axis='x', color='#262626', lw=0.8)
    for lo, hi in ZONE_BANDS:
        ax.axhspan(lo, hi, color='#2f2f2f', lw=0, zorder=0.3)
        for k in np.arange(lo + step, hi - step / 3, step):
            ax.axhline(k, color='#0c0c0c', lw=1.4, zorder=0.4)
    for lv in BLUE_LEVELS:
        ax.axhline(lv, color=BLUE, lw=1.3, zorder=2)
    for lv in YELLOW_LEVELS:
        ax.axhline(lv, color=YELLOW, lw=1.3, zorder=2)
    ax.axhline(DOTTED_LEVEL, color=BLUE, lw=1.2, ls=(0, (2, 2)), zorder=2)
    tr = ax.get_yaxis_transform()
    for lv in label_levels:
        col = YELLOW if lv in YELLOW_LEVELS else BLUE
        ax.text(0.997, lv + 0.02, f"{lv:,.1f}", transform=tr, ha='right', va='bottom',
                color=col, fontsize=7.5, zorder=7)


def ind_panel(ax, xlim, ylim, majors, minor_step, dotted, xend, dashdot=None):
    ax.set_xlim(*xlim)
    ax.set_ylim(*ylim)
    ax.yaxis.set_major_locator(FixedLocator(majors))
    ax.yaxis.set_minor_locator(FixedLocator(np.arange(majors[0] - 2 * minor_step,
                                                      majors[-1] + 2 * minor_step, minor_step)))
    ax.yaxis.set_major_formatter(FuncFormatter(lambda v, _: f"{v:.2f}"))
    ax.grid(True, axis='y', which='both', color='#1e1e1e', lw=0.8)
    ax.grid(True, axis='x', color='#262626', lw=0.8)
    for lv in dotted:
        ax.hlines(lv, xlim[0], xend, color='#dcdcdc', lw=1, ls=(0, (1.5, 2.5)), zorder=2)
    if dashdot is not None:
        ax.hlines(dashdot, xlim[0], xend, color='#c8c8c8', lw=1, ls=(0, (7, 3, 1.5, 3)), zorder=2)


# ================= LEFT =================
lx = (-0.5, 130.17)
axL = px_axes(3, 20, 787, 503)
axL1 = px_axes(3, 503, 787, 643)
axL2 = px_axes(3, 643, 787, 856)
for a in (axL, axL1, axL2):
    a.set_xticks(L_TIME_TICKS)

price_panel(axL, lx, (1278.36, 1289.63), np.arange(1278.7, 1289.25, 0.5), 0.15,
            [1289.3, 1287.4, 1286.4, 1285.0, 1284.0, 1281.4, 1280.7, 1280.0, 1279.3, 1278.3],
            hide_tick=1288.2)
axL.vlines(L_CURSOR, 1278.0, 1279.08, color='#b4b4b4', lw=1, zorder=3)
axL.plot(L_STEP_X, L_STEP_Y, color='#c8c8c8', lw=1.2, zorder=6)
axL.plot(L_VWAP_X, L_VWAP_Y, color='#22bb22', lw=1.3, ls=(0, (6, 3, 1.5, 3)), zorder=6)
candles(axL, L_OPEN, L_HIGH, L_LOW, L_CLOSE, 0.66)
axL.plot(L_TREND_UPPER_X, L_TREND_UPPER_Y, color='#2e8ae6', lw=3, zorder=7, solid_capstyle='round')
axL.plot(L_TREND_LOWER_X, L_TREND_LOWER_Y, color='#2e8ae6', lw=3, zorder=7, solid_capstyle='round')
axL.text(1.007, LAST_PRICE, f"{LAST_PRICE:,.1f}", transform=axL.get_yaxis_transform(),
         ha='left', va='center', fontsize=7.5, color='#ff9a9a', zorder=10,
         bbox=dict(boxstyle='square,pad=0.18', fc='#d00000', ec='none'))

ind_panel(axL1, lx, (-33.3, 160.7), [0, 40, 80, 120], 20, [110, -10], 106.6)
axL1.axvline(L_CURSOR, color='#b4b4b4', lw=1, zorder=3)
axL1.plot(L_CCI_CYAN_X, L_CCI_CYAN, color='#3fd6d6', lw=1.8, zorder=4)
axL1.plot(L_CCI_OLIVE_X, L_CCI_OLIVE, color='#8f8f2a', lw=1.1, zorder=5)
axL1.plot(L_CCI_X, L_CCI_RED, color='#e01010', lw=1.1, zorder=6)
axL1.plot(L_CCI_TREND_X, L_CCI_TREND_Y, color='#2e8ae6', lw=3, zorder=7)

ind_panel(axL2, lx, (-0.8, 107.5), [10, 30, 50, 70, 90], 10, [70, 30], 106.6, dashdot=50)
axL2.axvline(L_CURSOR, color='#b4b4b4', lw=1, zorder=3)
axL2.plot(L_RSI_CYAN_X, L_RSI_CYAN, color='#3fd6d6', lw=1.8, zorder=4)
axL2.plot(L_RSI_OLIVE_X, L_RSI_OLIVE, color='#8f8f2a', lw=1.1, zorder=5)
axL2.plot(L_RSI_X, L_RSI_RED, color='#e01010', lw=1.1, zorder=6)
axL2.plot(L_RSI_TREND_X, L_RSI_TREND_Y, color='#2e8ae6', lw=3, zorder=7)
axL2.spines['bottom'].set_visible(True)
axL2.spines['bottom'].set_color(RED_AX)
axL2.set_xticklabels(L_TIME_LABELS)
axL2.tick_params(axis='x', labelbottom=True, labelcolor=TXT, labelsize=8, pad=5)

# ================= RIGHT =================
rx = (-0.5, 245.5)
axR = px_axes(838, 20, 1822, 522)
axR1 = px_axes(838, 522, 1822, 700)
axR2 = px_axes(838, 700, 1822, 868)
for a in (axR, axR1, axR2):
    a.set_xticks(R_TIME_TICKS)

price_panel(axR, rx, (1279.65, 1290.83), np.arange(1280.0, 1290.55, 0.5), 0.1,
            [1290.3, 1289.3, 1287.4, 1286.4, 1285.0, 1284.0, 1281.4, 1280.7, 1280.0])
axR.axvline(R_SESSION_LINE, color='#5a5a5a', lw=1, ls=(0, (3, 3)), zorder=1)
axR.plot(R_STEP_X, R_STEP_Y, color='#c8c8c8', lw=1.2, zorder=6)
axR.plot(R_VWAP_X, R_VWAP_Y, color='#22bb22', lw=1.3, ls=(0, (6, 3, 1.5, 3)), zorder=6)
candles(axR, R_OPEN, R_HIGH, R_LOW, R_CLOSE, 0.72)
axR.add_patch(Ellipse((143.8, 1284.19), 23.5, 0.59, fc='#a8a8a8', ec='none', alpha=0.65, zorder=8))
axR.plot(R_POINTER_X, R_POINTER_Y, color='white', lw=2, zorder=8)
axR.annotate('', xy=(106.6, 1285.15), xytext=(106.6, 1285.66),
             arrowprops=dict(arrowstyle='-|>', color='#ffff00', lw=2.5, mutation_scale=11), zorder=9)
axR.annotate('', xy=(113.8, 1280.62), xytext=(113.8, 1280.18),
             arrowprops=dict(arrowstyle='-|>', color='#ffff00', lw=2.5, mutation_scale=11), zorder=9)
axR.text(39, 1288.70, ANN_WEAK, color='#d4d4d4', fontsize=8, ha='left', va='top',
         linespacing=1.4, zorder=9)
axR.text(134, 1283.66, ANN_DIV, color='#d4d4d4', fontsize=8, ha='left', va='top',
         linespacing=1.4, zorder=9)
axR.text(118.3, 1280.70, ANN_ENTRY, color='#d4d4d4', fontsize=8, ha='left', va='top',
         linespacing=1.3, zorder=9)
axR.text(1.006, LAST_PRICE, f"{LAST_PRICE:,.1f}", transform=axR.get_yaxis_transform(),
         ha='left', va='center', fontsize=7.5, color='#202020', zorder=10,
         bbox=dict(boxstyle='larrow,pad=0.18', fc='#e8e4d8', ec='none'))

ind_panel(axR1, rx, (-32.9, 156), [0, 40, 80, 120], 20, [110, -10], 169.8)
axR1.plot(R_CCI_CYAN_X, R_CCI_CYAN, color='#3fd6d6', lw=1.8, zorder=4)
axR1.plot(R_CCI_OLIVE_X, R_CCI_OLIVE, color='#8f8f2a', lw=1.1, zorder=5)

ind_panel(axR2, rx, (22.3, 82.3), [30, 40, 50, 60, 70], 5, [70, 30], 169.8, dashdot=50)
axR2.plot(R_RSI_CYAN_X, R_RSI_CYAN, color='#3fd6d6', lw=1.8, zorder=4)
axR2.plot(R_RSI_OLIVE_X, R_RSI_OLIVE, color='#8f8f2a', lw=1.1, zorder=5)
axR2.plot(R_RSI_X, R_RSI_RED, color='#e01010', lw=1.1, zorder=6)
axR2.spines['bottom'].set_visible(True)
axR2.spines['bottom'].set_color(RED_AX)
axR2.set_xticklabels(R_TIME_LABELS)
axR2.tick_params(axis='x', labelbottom=True, labelcolor=TXT, labelsize=8, pad=5)

# ---- frame pieces: separators, borders, title bars ----
for y in (503, 643):
    fig_line(787, 829, y, y, RED_AX, 1.3)
fig_line(787, 829, 856, 856, RED_AX, 1.3)
for y in (522, 700):
    fig_line(1822, 1866, y, y, RED_AX, 1.3)
fig_line(1822, 1866, 868, 868, RED_AX, 1.3)
fig_rect(0, 0, W, 2, '#bcbcbc')
fig_rect(0, 0, 2, 878, '#9a9a9a')
fig_rect(830, 0, 837, H, '#c4ccd4')
fig_rect(1867, 0, W, H, '#c4c4c4')
fig_rect(0, 878, 830, 885, '#d0d0d0')
fig_rect(837, 886, 1867, H, '#d0d0d0')

for x, s, c in [(5, '@GC - 15 min', '#e8e8e8'), (79, '4.5', '#3ccf3c'), (103, '0.35%', '#3ccf3c'),
                (145, 'Hi=1,289.1', '#e8e8e8'), (201, 'Lo=1,280.0', '#e8e8e8'),
                (841, '@GC - 3 min', '#e8e8e8'), (906, '4.5', '#3ccf3c'), (931, '0.35%', '#3ccf3c'),
                (972, 'Hi=1,289.1', '#e8e8e8'), (1029, 'Lo=1,280.0', '#e8e8e8')]:
    fig.text(x / W, 1 - 11 / H, s, color=c, fontsize=7.5, ha='left', va='center')

fig.savefig('out.png', dpi=100, facecolor='black')
